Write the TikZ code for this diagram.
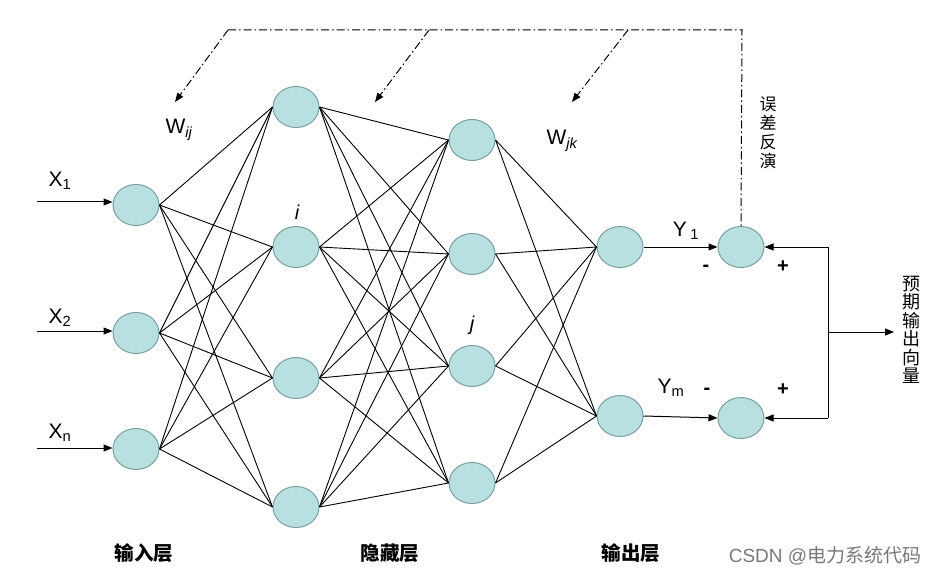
\documentclass[tikz,border=0pt]{standalone}
\usepackage{fontspec}
\setmainfont{Liberation Sans}
\newfontfamily\cjk{Noto Sans CJK SC}
\usetikzlibrary{arrows.meta,shapes.geometric}
\definecolor{nodefill}{RGB}{185,224,225}
\definecolor{nodeedge}{RGB}{120,160,160}
\definecolor{wmgray}{RGB}{120,120,120}
\begin{document}
\begin{tikzpicture}[x=1pt,y=-1pt,
  neuron/.style={ellipse,draw=nodeedge,fill=nodefill,minimum width=46pt,minimum height=41pt,inner sep=0pt,line width=1pt},
  link/.style={draw=black,line width=0.9pt},
  arr/.style={draw=black,line width=1pt,-{Triangle[length=9pt,width=7pt]}},
  fb/.style={draw=black,line width=1pt,dash pattern=on 8pt off 3pt on 1.5pt off 3pt},
  fbarr/.style={fb,-{Triangle[length=9pt,width=7pt]}},
  lbl/.style={font=\fontsize{21}{24}\selectfont,inner sep=0pt},
  small/.style={font=\bfseries\fontsize{20}{24}\selectfont,inner sep=0pt},
  cjklbl/.style={font=\cjk\bfseries\fontsize{19.5}{22}\selectfont,inner sep=0pt},
  vcjk/.style={align=center,inner sep=0pt}]
\useasboundingbox (0,0) rectangle (935,575);

% input layer
\node[neuron] (x1) at (136,205) {};
\node[neuron] (x2) at (136,333) {};
\node[neuron] (x3) at (136,449) {};
% hidden layer 1
\node[neuron] (h1) at (296,107) {};
\node[neuron] (h2) at (296,247) {};
\node[neuron] (h3) at (296,378) {};
\node[neuron] (h4) at (296,507) {};
% hidden layer 2
\node[neuron] (g1) at (472,140) {};
\node[neuron] (g2) at (472,254) {};
\node[neuron] (g3) at (472,366) {};
\node[neuron] (g4) at (472,483) {};
% output layer
\node[neuron] (o1) at (620,247) {};
\node[neuron] (o2) at (620,416) {};
% error nodes
\node[neuron] (e1) at (741,247) {};
\node[neuron] (e2) at (741,418) {};

% connections
\foreach \a in {x1,x2,x3}
  \foreach \b in {h1,h2,h3,h4}
    \draw[link] (\a.east) -- (\b.west);
\foreach \a in {h1,h2,h3,h4}
  \foreach \b in {g1,g2,g3,g4}
    \draw[link] (\a.east) -- (\b.west);
\foreach \a in {g1,g2,g3,g4}
  \foreach \b in {o1,o2}
    \draw[link] (\a.east) -- (\b.west);

% input arrows
\coordinate (in1) at (37,202);
\coordinate (in2) at (37,331);
\coordinate (in3) at (37,448);
\draw[arr] (in1) -- (x1.west |- in1);
\draw[arr] (in2) -- (x2.west |- in2);
\draw[arr] (in3) -- (x3.west |- in3);
\node[lbl] (lx1) at (60,181) {X\textsubscript{1}};
\node[lbl] (lx2) at (60,318) {X\textsubscript{2}};
\node[lbl] (lx3) at (60,433) {X\textsubscript{n}};

% outputs to error nodes
\draw[arr] (o1.east) -- (e1.west);
\draw[arr] (o2.east) -- (e2.west);
\node[lbl] (ly1) at (686,231) {Y\,\textsubscript{1}};
\node[lbl] (lym) at (671,388) {Y\textsubscript{m}};
\node[small] (m1) at (706,268) {-};
\node[small] (p1) at (783,267) {+};
\node[small] (m2) at (707,391) {-};
\node[small] (p2) at (783,390) {+};

% expected output feedback
\coordinate (r1) at (828,247);
\coordinate (r2) at (828,418);
\coordinate (rm) at (828,332);
\coordinate (rend) at (894,332);
\draw[line width=1pt] (r1) -- (r2);
\draw[arr] (r1) -- (e1.east);
\draw[arr] (r2) -- (e2.east);
\draw[arr] (rm) -- (rend);
\node[vcjk,font=\cjk\fontsize{18}{18.5}\selectfont] (exp) at (911,330) {预\\期\\输\\出\\向\\量};

% error back-propagation (dash-dot)
\coordinate (t0) at (228,30);
\coordinate (t1) at (429,30);
\coordinate (t2) at (628,30);
\coordinate (t3) at (742,30);
\coordinate (a0) at (175,102);
\coordinate (a1) at (375,102);
\coordinate (a2) at (572,102);
\draw[fb] (t0) -- (t3) -- (e1.north);
\draw[fbarr] (t0) -- (a0);
\draw[fbarr] (t1) -- (a1);
\draw[fbarr] (t2) -- (a2);
\node[vcjk,font=\cjk\fontsize{17}{19}\selectfont] (err) at (768,133) {误\\差\\反\\演};

% weight and index labels
\node[lbl] (wij) at (179,130) {W\textsubscript{\itshape ij}};
\node[lbl] (wjk) at (562,141) {W\textsubscript{\itshape jk}};
\node[lbl,font=\itshape\fontsize{20}{24}\selectfont] (li) at (297,212) {i};
\node[lbl,font=\itshape\fontsize{20}{24}\selectfont] (lj) at (472,325) {j};

% layer labels
\node[cjklbl] (L1) at (144,553) {输入层};
\node[cjklbl] (L2) at (390,553) {隐藏层};
\node[cjklbl] (L3) at (631,553) {输出层};
\node[font=\fontsize{19}{22}\selectfont,text=wmgray,inner sep=0pt] (wm) at (825,556) {CSDN @{\cjk 电力系统代码}};
\end{tikzpicture}
\end{document}
